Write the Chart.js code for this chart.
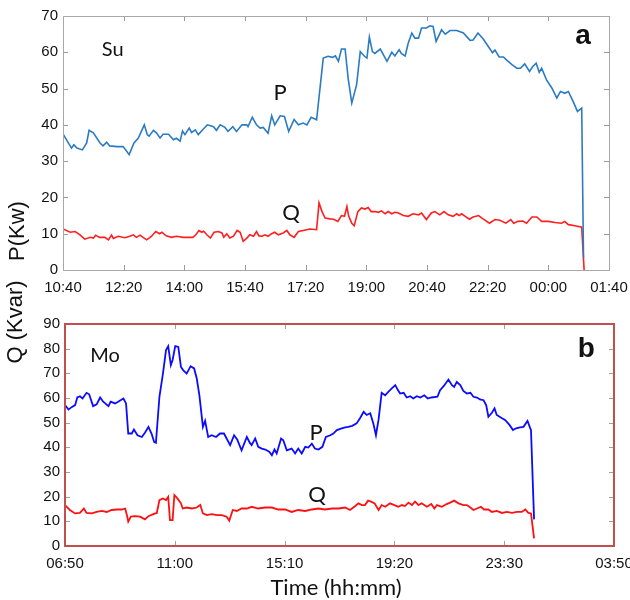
<!DOCTYPE html>
<html>
<head>
<meta charset="utf-8">
<script src="https://cdn.jsdelivr.net/npm/chart.js@4.4.0/dist/chart.umd.min.js"></script>
<style>
  html, body { margin: 0; padding: 0; background: #fff; }
  #wrap { position: relative; width: 630px; height: 600px; }
  canvas { position: absolute; left: 0; }
  #chartSu { top: 0; }
  #chartMo { top: 270px; }
</style>
</head>
<body>
<div id="wrap">
  <canvas id="chartSu" width="630" height="300"></canvas>
  <canvas id="chartMo" width="630" height="330"></canvas>
</div>
<script>
// Sunday (a): minutes after 10:40
const suTicks = ['10:40', '12:20', '14:00', '15:40', '17:20', '19:00', '20:40', '22:20', '00:00', '01:40'];
const suPTime = [
  0, 14, 18, 23, 32, 39, 43, 50, 61, 66,
  72, 77, 89, 99, 105, 109, 117, 124, 134, 139,
  142, 149, 154, 160, 165, 174, 182, 187, 193, 197,
  201, 208, 212, 218, 223, 231, 238, 248, 253, 259,
  267, 272, 280, 286, 295, 303, 305, 312, 319, 325,
  330, 338, 344, 349, 358, 365, 372, 381, 388, 396,
  402, 409, 418, 429, 437, 444, 449, 454, 459, 465,
  470, 476, 484, 490, 497, 501, 505, 510, 514, 523,
  534, 542, 547, 554, 558, 564, 569, 575, 580, 586,
  591, 599, 605, 610, 615, 624, 630, 638, 649, 660,
  671, 676, 684, 693, 701, 708, 712, 719, 726, 731,
  740, 748, 754, 761, 769, 774, 780, 785, 789, 797,
  806, 814, 820, 827, 833, 841, 848, 855, 858
];
const suP = [
  37.5, 33.6, 34.5, 33.6, 33.1, 35, 38.5, 37.8, 35, 34.2,
  35.2, 34.2, 34, 34, 32.7, 31.8, 35, 36.3, 40, 37.3,
  36.9, 38.5, 37.8, 36.4, 37.4, 37.4, 35.9, 36.3, 35.5, 38.3,
  37.3, 39.1, 37.9, 38.6, 37.3, 38.8, 40, 39.5, 38.5, 40,
  39.3, 38.2, 39.5, 38.2, 40, 40, 39.5, 42.1, 40, 39.1,
  39.3, 37.7, 42.5, 40, 42.5, 42.3, 38.2, 41.5, 40, 40.5,
  40, 42.1, 41.4, 58.4, 58.9, 58.6, 59, 57.5, 60.9, 60.9,
  52.9, 46, 51.1, 60.2, 58.9, 58.4, 64.2, 60.2, 59.7, 60.9,
  57.5, 60, 59, 60.7, 59.6, 59, 62.5, 65.3, 63.9, 63.9,
  66.7, 66.7, 67.3, 67.1, 63, 66.2, 65, 66, 66, 65.3,
  63.3, 63.4, 65.3, 63.6, 61.6, 59.9, 60.6, 58.7, 58.7, 57.9,
  56.6, 55.6, 55.6, 56.8, 54.7, 56, 57, 54.5, 55.6, 52.4,
  50.1, 47.4, 49.2, 48.7, 49.2, 46.4, 43.7, 44.6, 3.4
];
const suQTime = [
  0, 12, 20, 28, 36, 45, 50, 54, 60, 69,
  75, 80, 83, 91, 102, 110, 116, 121, 127, 132,
  138, 146, 153, 159, 163, 170, 179, 187, 198, 214,
  219, 224, 229, 232, 237, 243, 249, 256, 262, 265,
  270, 275, 281, 287, 292, 297, 303, 308, 314, 319,
  323, 328, 333, 338, 344, 349, 355, 363, 369, 374,
  381, 388, 396, 407, 418, 422, 427, 432, 440, 446,
  453, 459, 464, 468, 471, 476, 480, 486, 492, 498,
  503, 508, 514, 520, 525, 531, 536, 542, 547, 553,
  561, 569, 577, 586, 591, 599, 607, 613, 621, 628,
  635, 643, 649, 653, 657, 663, 670, 676, 685, 693,
  703, 712, 720, 730, 738, 743, 750, 758, 764, 773,
  781, 789, 800, 811, 822, 827, 833, 844, 855, 859
];
const suQ = [
  11.3, 10.4, 10.6, 9.7, 8.5, 9, 8.8, 9.6, 9, 9,
  8.3, 9.6, 8.7, 9.3, 8.9, 9.3, 9.7, 9, 9.6, 9,
  8.3, 9.3, 10.6, 10, 10.4, 9.4, 9, 9.3, 9, 9,
  9.7, 10.9, 10.4, 10.7, 9.7, 8.8, 10.4, 10.6, 10.2, 9,
  10, 8.8, 9.3, 10.9, 10.4, 7.9, 8.8, 9.7, 9.3, 10.6,
  9.4, 9.3, 9.7, 9.3, 10, 10.4, 9.7, 10.2, 10.9, 9.7,
  9, 10.6, 10.9, 11.3, 11.1, 18.5, 16.1, 14.3, 14.1, 14,
  13.4, 15, 14.8, 17.5, 14.8, 12.9, 12.2, 16.1, 17.1, 16.8,
  17.2, 16.1, 16.1, 15.9, 16.3, 15.5, 16.1, 15.5, 15.9, 15.7,
  15, 14.8, 15.5, 15.2, 15.7, 13.9, 15.7, 16.1, 15.2, 16.1,
  15.2, 14.8, 15.5, 15, 15.5, 14.8, 14, 14.6, 15, 14,
  12.9, 13.9, 13.7, 12.9, 13.9, 12.9, 13.4, 13.5, 12.9, 14.6,
  14.6, 13.4, 13.4, 13.1, 12.9, 13.4, 12.5, 12.2, 11.8, 0
];

// Monday (b): minutes after 06:50
const moTicks = ['06:50', '11:00', '15:10', '19:20', '23:30', '03:50'];
const moPTime = [
  0, 8, 15, 23, 28, 34, 40, 49, 55, 64,
  72, 80, 87, 99, 104, 114, 121, 133, 139, 144,
  152, 157, 165, 175, 182, 190, 197, 203, 207, 215,
  223, 230, 235, 241, 245, 251, 258, 264, 269, 277,
  286, 294, 300, 306, 314, 319, 326, 334, 344, 353,
  362, 368, 376, 385, 392, 402, 414, 421, 425, 433,
  440, 448, 456, 465, 471, 477, 482, 492, 497, 505,
  516, 524, 531, 539, 547, 554, 562, 569, 577, 586,
  594, 604, 611, 619, 630, 638, 645, 654, 664, 672,
  680, 687, 695, 702, 708, 714, 721, 729, 736, 744,
  752, 758, 763, 771, 778, 786, 793, 801, 809, 818,
  826, 834, 848, 854, 863, 873, 881, 886, 892, 900,
  907, 915, 923, 930, 938, 945, 953, 959, 964, 972,
  978, 983, 995, 1002, 1012, 1020, 1027, 1036, 1044, 1053,
  1061, 1068
];
const moP = [
  57.1, 55.3, 56.3, 57.1, 60.2, 60.7, 59.8, 62.1, 61.5, 56.7,
  57.4, 60.2, 58.5, 56.7, 58.5, 57.8, 58.5, 59.8, 57.8, 45.6,
  45.6, 47.2, 44.9, 44.2, 45.9, 48.3, 45.6, 42.2, 41.8, 60.5,
  69.9, 79.4, 81, 73.3, 75.4, 81, 80.7, 72.6, 71.3, 69.9,
  72.9, 72, 67.9, 61.1, 48.3, 50.7, 44.2, 44.9, 44.2, 45.6,
  45.6, 43.6, 40.9, 44.9, 43.2, 38.8, 44.2, 41.8, 40.9, 43.6,
  40.2, 39.5, 39.1, 38.2, 36.8, 39.1, 37.5, 43.6, 42.9, 38.8,
  39.5, 37.5, 39.5, 37.5, 40.2, 39.9, 41.5, 39.5, 39.1, 40.2,
  44.2, 44.9, 45.6, 47, 47.7, 48.1, 48.3, 48.7, 49.7, 51.9,
  54.4, 53.1, 53.8, 49.7, 44.9, 51.3, 62.1, 61.1, 62.5, 63.9,
  65.2, 63.2, 61.8, 62.1, 60.2, 60.7, 59.8, 60.7, 60.2, 61.1,
  59.8, 60.2, 60.5, 63.2, 65, 67.5, 65.2, 64.5, 66.5, 65.2,
  62.9, 61.8, 62.1, 60.5, 60.2, 59.4, 59.1, 57.1, 52.4, 54,
  55.8, 53.1, 51.8, 51.1, 49.1, 47, 47.7, 48.1, 48.3, 50.7,
  47, 10.8
];
const moQTime = [
  0, 11, 23, 34, 43, 49, 61, 72, 84, 95,
  106, 118, 129, 137, 141, 144, 150, 159, 171, 182,
  190, 201, 209, 215, 223, 230, 235, 239, 245, 249,
  256, 264, 268, 277, 289, 300, 308, 314, 323, 334,
  346, 357, 368, 374, 382, 391, 402, 414, 425, 440,
  456, 471, 486, 501, 516, 531, 547, 562, 577, 592,
  608, 623, 638, 649, 661, 668, 676, 683, 690, 697,
  705, 714, 721, 729, 740, 750, 759, 767, 774, 782,
  790, 797, 805, 812, 824, 834, 841, 847, 858, 869,
  877, 886, 896, 907, 915, 923, 930, 938, 947, 954,
  964, 972, 983, 995, 1006, 1018, 1029, 1040, 1048, 1055,
  1061, 1068
];
const moQ = [
  16.6, 14.6, 13.2, 13.4, 15.2, 13.4, 13.2, 13.8, 14.2, 13.8,
  14.6, 14.8, 14.8, 15.2, 12.5, 9.9, 11.9, 12.1, 11.9, 10.8,
  12.1, 12.9, 13.4, 18.6, 19.3, 18.6, 19.9, 10.5, 10.5, 20.6,
  19.3, 17.3, 15.2, 15.6, 15.2, 15.6, 16.6, 13.2, 12.5, 12.9,
  12.5, 12.5, 11.9, 10.3, 14.6, 14.2, 15.2, 15.2, 15.9, 15.2,
  15.6, 15.6, 14.8, 14.8, 13.8, 14.6, 14.2, 14.8, 15.2, 14.8,
  15.2, 15.2, 15.6, 14.6, 16.2, 17.3, 16.6, 16.6, 18.4, 18,
  17.3, 14.6, 16.6, 15.9, 17.3, 16.6, 15.9, 16.6, 16.2, 17.6,
  16.6, 18, 16.6, 17.3, 15.9, 17, 15.2, 16.6, 15.9, 17,
  17.6, 18.4, 17.3, 16.6, 16.6, 15.6, 14.6, 15.2, 15.9, 14.8,
  14.8, 13.8, 14.2, 13.4, 13.8, 13.4, 13.8, 13.8, 14.8, 13.4,
  13.2, 3.1
];

const tickFont = { family: "'Liberation Sans', Arial, sans-serif", size: 15 };
const noteFont = "'Lato', 'Open Sans', sans-serif";
const pts = (t, v) => t.map((m, i) => ({ x: m, y: v[i] }));

// box frame, inward tick marks on all four sides, and the free text
const panelDecor = {
  id: 'panelDecor',
  afterDatasetsDraw(chart, args, opts) {
    const { ctx, chartArea: a, scales: { x, y } } = chart;
    ctx.save();
    ctx.lineWidth = 1;
    ctx.strokeStyle = opts.tickColor;
    ctx.beginPath();
    x.ticks.forEach(t => {
      const px = Math.round(x.getPixelForValue(t.value)) + 0.5;
      ctx.moveTo(px, a.bottom); ctx.lineTo(px, a.bottom - 5);
      ctx.moveTo(px, a.top); ctx.lineTo(px, a.top + 5);
    });
    y.ticks.forEach(t => {
      const py = Math.round(y.getPixelForValue(t.value)) + 0.5;
      ctx.moveTo(a.left, py); ctx.lineTo(a.left + 5, py);
      ctx.moveTo(a.right, py); ctx.lineTo(a.right - 5, py);
    });
    ctx.stroke();

    ctx.strokeStyle = opts.frameColor;
    ctx.lineWidth = opts.frameWidth;
    const off = opts.frameWidth % 2 ? 0.5 : 0;
    ctx.strokeRect(Math.round(a.left) + off, Math.round(a.top) + off,
                   Math.round(a.width), Math.round(a.height));

    ctx.fillStyle = '#111';
    ctx.textAlign = 'center';
    ctx.textBaseline = 'middle';
    opts.notes.forEach(n => {
      ctx.font = n.font;
      ctx.fillText(n.text, x.getPixelForValue(n.at[0]), y.getPixelForValue(n.at[1]));
    });
    opts.titles.forEach(tl => {
      ctx.save();
      ctx.translate(tl.px[0], tl.px[1]);
      ctx.rotate(tl.rotate || 0);
      ctx.font = tl.font;
      ctx.fillText(tl.text, 0, 0);
      ctx.restore();
    });
    ctx.restore();
  }
};

function panel(canvasId, o) {
  return new Chart(document.getElementById(canvasId), {
    type: 'line',
    data: {
      datasets: [
        { label: 'P', data: pts(o.pTime, o.p), borderColor: o.pColor, borderWidth: o.lw, pointRadius: 0, tension: 0 },
        { label: 'Q', data: pts(o.qTime, o.q), borderColor: o.qColor, borderWidth: o.lw, pointRadius: 0, tension: 0 }
      ]
    },
    options: {
      responsive: false,
      animation: false,
      layout: { padding: o.pad },
      plugins: {
        legend: { display: false },
        tooltip: { enabled: false },
        panelDecor: o.decor
      },
      scales: {
        x: {
          type: 'linear', min: 0, max: o.xMax,
          grid: { display: false, drawTicks: false },
          border: { display: false },
          ticks: {
            stepSize: o.xStep, autoSkip: false, maxRotation: 0, padding: 9,
            font: tickFont, color: '#111',
            callback: v => o.xLabels[Math.round(v / o.xStep)]
          },
          afterFit: s => { s.height = o.xHeight; s.paddingLeft = 0; s.paddingRight = 0; }
        },
        y: {
          min: 0, max: o.yMax,
          grid: { display: false, drawTicks: false },
          border: { display: false },
          ticks: { stepSize: 10, padding: 5, font: tickFont, color: '#111' },
          afterFit: s => { s.width = o.yWidth; s.paddingTop = 0; s.paddingBottom = 0; }
        }
      }
    },
    plugins: [panelDecor]
  });
}

panel('chartSu', {
  pTime: suPTime, p: suP, qTime: suQTime, q: suQ,
  pColor: '#2b7bc4', qColor: '#ff1f1f', lw: 1.6,
  xMax: 900, xStep: 100, xLabels: suTicks, yMax: 70,
  pad: { top: 16, right: 21, left: 0, bottom: 0 }, yWidth: 63, xHeight: 30,
  decor: {
    tickColor: '#9a9a9a', frameColor: '#a8a8a8', frameWidth: 1,
    notes: [
      { text: 'Su', at: [82, 60.7], font: '20px ' + noteFont },
      { text: 'P', at: [358, 48.8], font: '22px ' + noteFont },
      { text: 'Q', at: [376, 15.8], font: '22px ' + noteFont },
      { text: 'a', at: [857, 64.3], font: 'bold 28px ' + tickFont.family }
    ],
    titles: [
      { text: 'P(Kw)', px: [18, 231], rotate: -Math.PI / 2, font: '22px ' + tickFont.family }
    ]
  }
});

panel('chartMo', {
  pTime: moPTime, p: moP, qTime: moQTime, q: moQ,
  pColor: '#0b0bff', qColor: '#ff1010', lw: 1.8,
  xMax: 1250, xStep: 250, xLabels: moTicks, yMax: 90,
  pad: { top: 54, right: 16, left: 0, bottom: 0 }, yWidth: 65, xHeight: 54,
  decor: {
    tickColor: '#a0a0a0', frameColor: '#c0504d', frameWidth: 2,
    notes: [
      { text: 'Mo', at: [91, 77.3], font: '20px ' + noteFont },
      { text: 'P', at: [572, 45.7], font: '22px ' + noteFont },
      { text: 'Q', at: [574, 20.6], font: '22px ' + noteFont },
      { text: 'b', at: [1187, 79.8], font: 'bold 28px ' + tickFont.family }
    ],
    titles: [
      { text: 'Q (Kvar)', px: [16, 52], rotate: -Math.PI / 2, font: '22px ' + tickFont.family },
      { text: 'Time (hh:mm)', px: [336, 318], font: '22px ' + noteFont }
    ]
  }
});
</script>
</body>
</html>
